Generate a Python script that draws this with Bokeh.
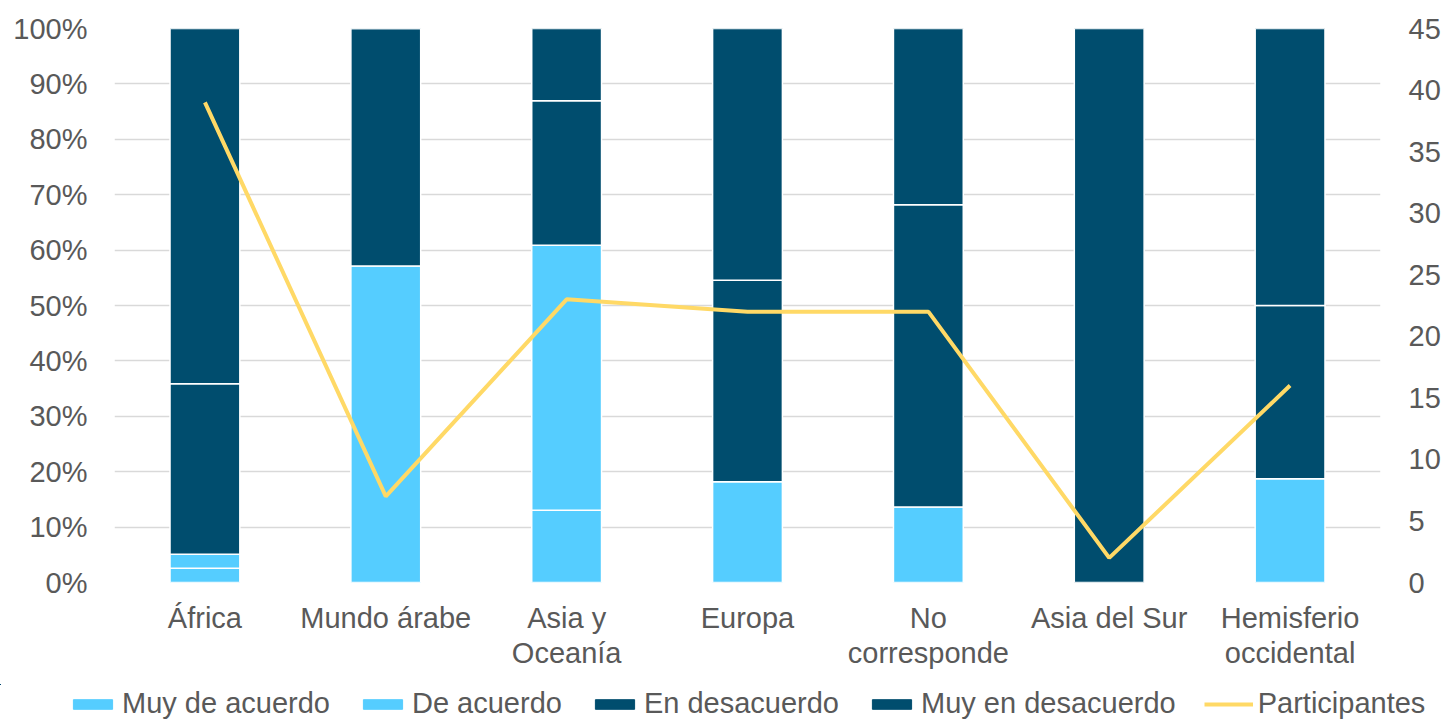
from bokeh.plotting import figure
from bokeh.models import (Range1d, LinearAxis, FixedTicker, SingleIntervalTicker,
                          PrintfTickFormatter, ColumnDataSource, Legend)
from bokeh.layouts import column, row
from bokeh.embed import file_html
from bokeh.resources import INLINE

categories = ["África", "Mundo árabe", "Asia y Oceanía", "Europa",
              "No corresponde", "Asia del Sur", "Hemisferio occidental"]
label_line1 = ["África", "Mundo árabe", "Asia y", "Europa",
               "No", "Asia del Sur", "Hemisferio"]
label_line2 = ["", "", "Oceanía", "", "corresponde", "", "occidental"]
muy_de_acuerdo = [2.56, 0.0, 13.04, 0.0, 0.0, 0.0, 0.0]
de_acuerdo = [2.56, 57.14, 47.83, 18.18, 13.64, 0.0, 18.75]
en_desacuerdo = [30.77, 42.86, 26.09, 36.36, 54.55, 0.0, 31.25]
muy_en_desacuerdo = [64.11, 0.0, 13.04, 45.46, 31.81, 100.0, 50.0]
participantes = [39, 7, 23, 22, 22, 2, 16]

series = ["Muy de acuerdo", "De acuerdo", "En desacuerdo", "Muy en desacuerdo"]
LIGHT = "#55CDFF"
DARK = "#004D6E"
LINE = "#FFD966"
colors = [LIGHT, LIGHT, DARK, DARK]
TEXT = "#595959"
FONT = "Liberation Sans"
FS = "29px"

xs = list(range(len(categories)))
src = ColumnDataSource(dict(x=xs,
                            m1=muy_de_acuerdo, m2=de_acuerdo,
                            m3=en_desacuerdo, m4=muy_en_desacuerdo,
                            part=participantes))

p = figure(x_range=Range1d(-0.5, len(categories) - 0.5),
           y_range=Range1d(0, 100),
           width=1443, height=684, output_backend="svg", toolbar_location=None,
           min_border_left=114, min_border_right=60, min_border_top=28,
           min_border_bottom=102)
p.extra_y_ranges = {"part": Range1d(0, 45)}

p.vbar_stack(["m1", "m2", "m3", "m4"], x="x", width=0.386, source=src,
             color=colors, line_color="white", line_width=1.5)
p.line(x="x", y="part", source=src, y_range_name="part",
       line_color=LINE, line_width=4)

p.outline_line_color = None
p.xgrid.visible = False
p.ygrid.grid_line_color = "#D9D9D9"
p.ygrid.grid_line_width = 1.5

ax = p.yaxis[0]
ax.ticker = SingleIntervalTicker(interval=10)
ax.formatter = PrintfTickFormatter(format="%d%%")

rax = LinearAxis(y_range_name="part", ticker=SingleIntervalTicker(interval=5))
p.add_layout(rax, "right")

xax1 = p.xaxis[0]
xax1.ticker = FixedTicker(ticks=xs)
xax1.major_label_overrides = dict(zip(xs, label_line1))
xax2 = LinearAxis(ticker=FixedTicker(ticks=xs))
xax2.major_label_overrides = dict(zip(xs, label_line2))
p.add_layout(xax2, "below")

for a in [xax1, xax2, ax, rax]:
    a.axis_line_color = None
    a.major_tick_line_color = None
    a.minor_tick_line_color = None
    a.major_tick_out = 0
    a.major_tick_in = 0
    a.major_label_text_font = FONT
    a.major_label_text_font_size = FS
    a.major_label_text_color = TEXT
ax.major_label_standoff = 23
rax.major_label_standoff = 24
xax1.major_label_standoff = 19
xax2.major_label_standoff = 0

# legend strip (its marks lie far outside its own ranges; only the legend shows)
lgf = figure(width=1443, height=36, output_backend="svg", toolbar_location=None,
             x_axis_type=None, y_axis_type=None, min_border=0,
             x_range=Range1d(1000, 1001), y_range=Range1d(-2000, -1000))
lgf.outline_line_color = None
lgf.grid.visible = False
items = []
for s, c, f in zip(series, colors, ["m1", "m2", "m3", "m4"]):
    r = lgf.vbar(x="x", top=f, width=0.386, source=src, color=c, line_color=c)
    items.append((s, [r]))
rl = lgf.line(x="x", y="part", source=src, line_color=LINE, line_width=4)
items.append(("Participantes", [rl]))

lg = Legend(items=items, orientation="horizontal", location=(68, 0))
lg.border_line_color = None
lg.background_fill_alpha = 0
lg.padding = 0
lg.margin = 0
lg.spacing = 28
lg.glyph_width = 49
lg.glyph_height = 12
lg.label_standoff = 5
lg.label_text_font = FONT
lg.label_text_font_size = FS
lg.label_text_color = TEXT
lgf.add_layout(lg, "center")

open("out.html", "w").write(file_html(column(p, row(lgf), spacing=0), INLINE))
